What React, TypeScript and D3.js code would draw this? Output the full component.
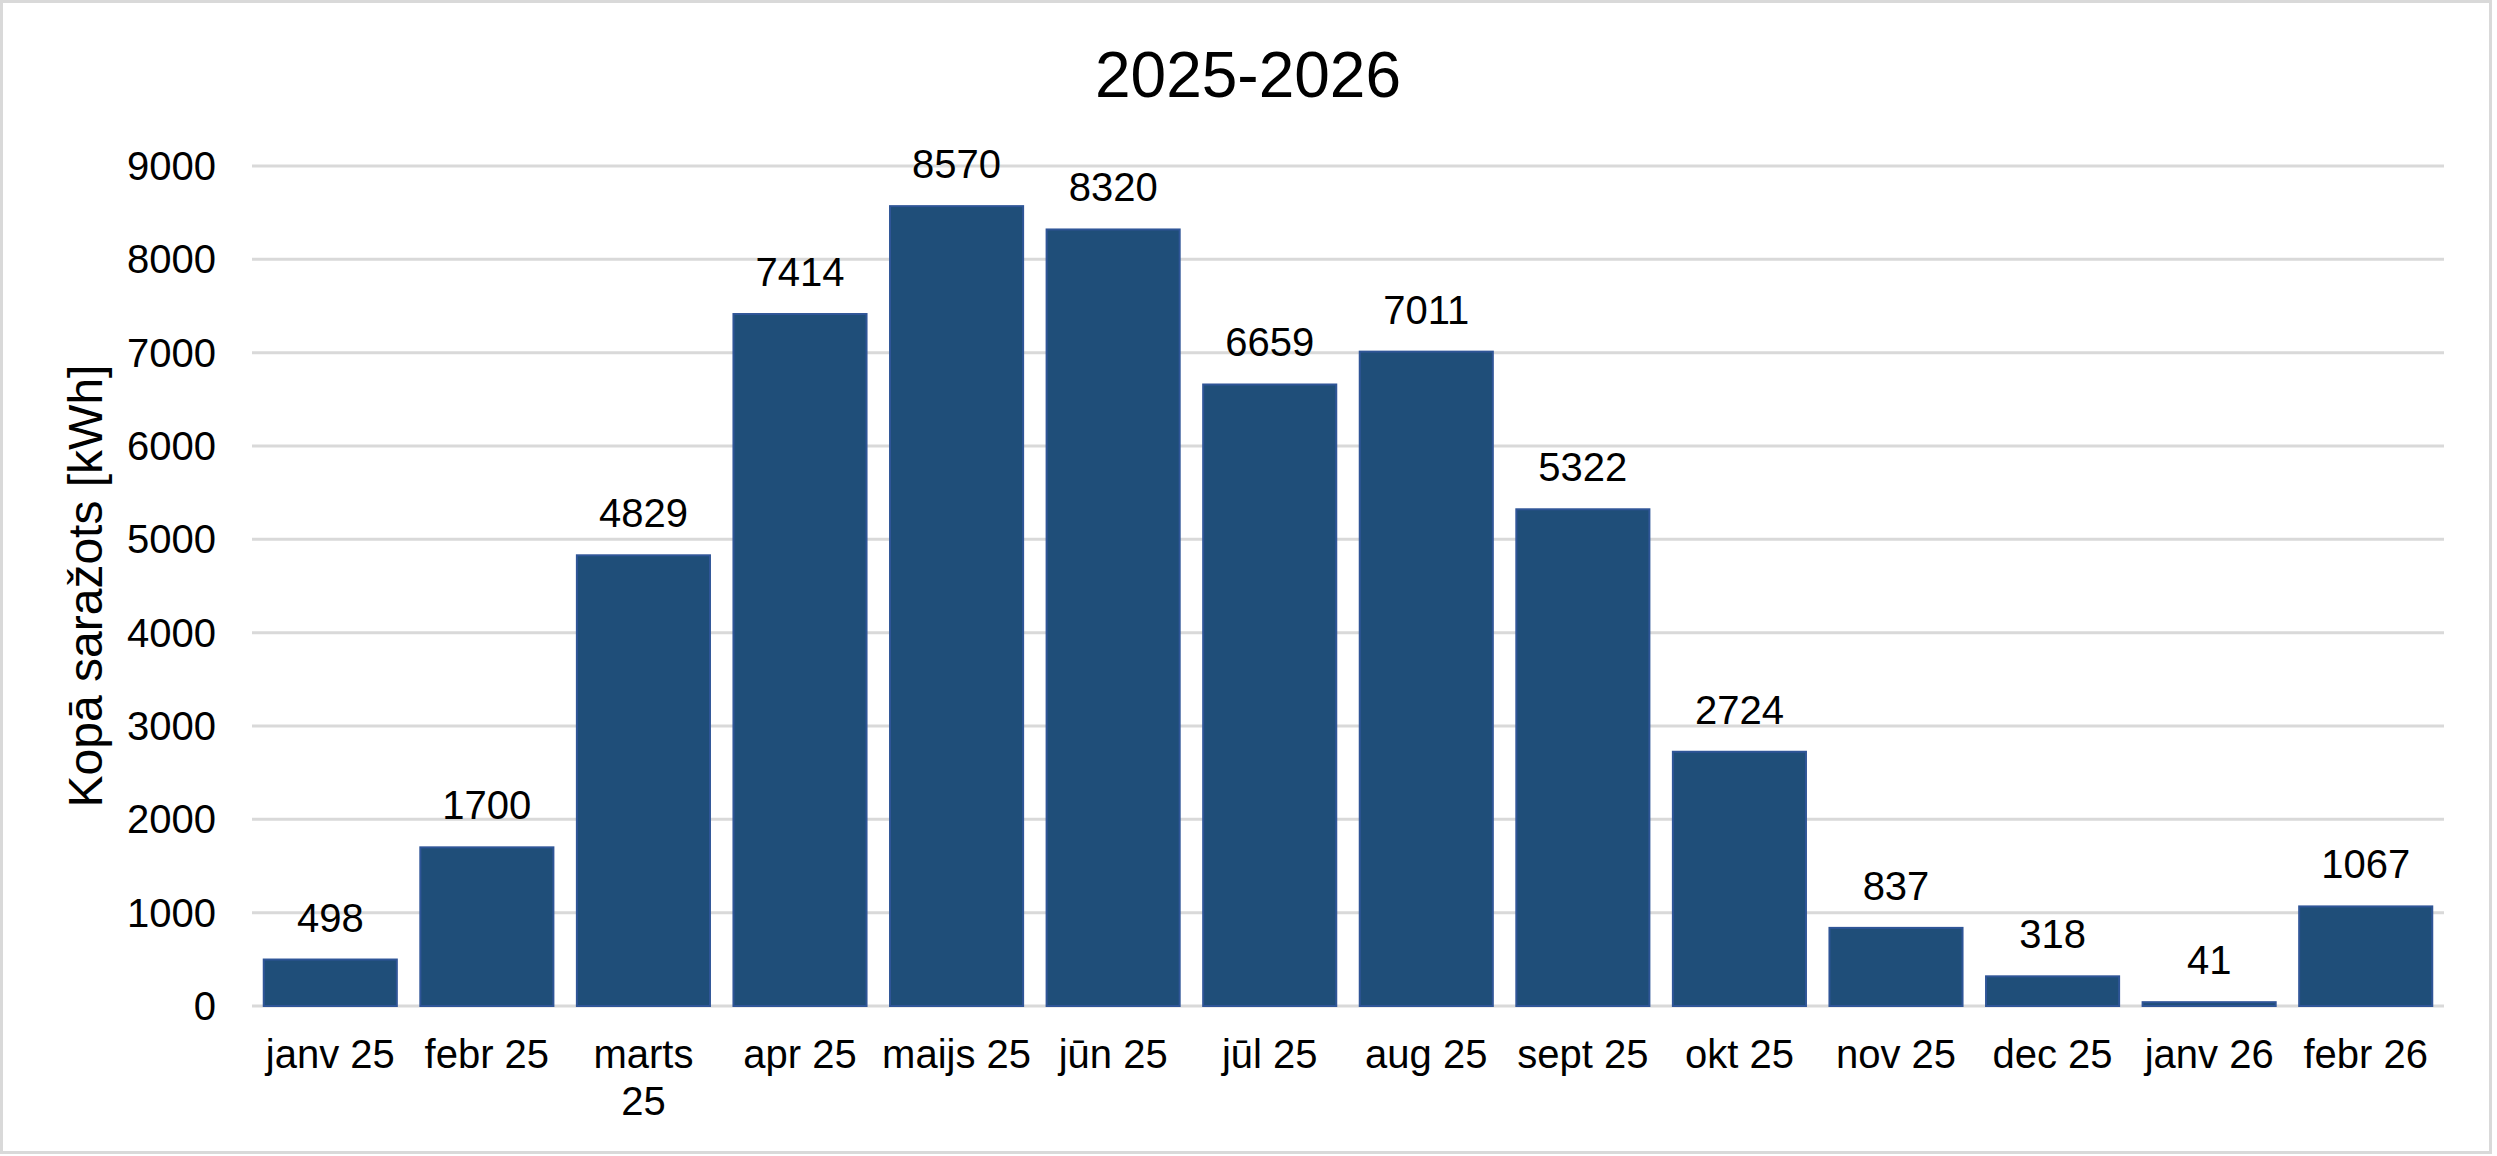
import React, { useEffect, useRef } from "react";
import * as d3 from "d3";

const categories = [
  "janv 25", "febr 25", "marts 25", "apr 25", "maijs 25", "jūn 25", "jūl 25",
  "aug 25", "sept 25", "okt 25", "nov 25", "dec 25", "janv 26", "febr 26",
];
const values = [498, 1700, 4829, 7414, 8570, 8320, 6659, 7011, 5322, 2724, 837, 318, 41, 1067];
const yTicks = [0, 1000, 2000, 3000, 4000, 5000, 6000, 7000, 8000, 9000];
const title = "2025-2026";
const yTitle = "Kopā saražots [kWh]";

const W = 2497;
const H = 1156;
const FONT = "'Liberation Sans', Arial, sans-serif";

export default function App() {
  const ref = useRef<SVGSVGElement>(null);

  useEffect(() => {
    const svg = d3.select(ref.current);
    svg.selectAll("*").remove();

    const x = d3.scaleBand<string>().domain(categories).range([252, 2444]).paddingInner(0.15).paddingOuter(0.075);
    const y = d3.scaleLinear().domain([0, 9000]).range([1006, 166]);

    svg.append("rect").attr("x", 0).attr("y", 0).attr("width", W).attr("height", H).attr("fill", "#fff");
    svg.append("rect")
      .attr("x", 1.5).attr("y", 1.5).attr("width", 2489).attr("height", 1151)
      .attr("fill", "none").attr("stroke", "#d9d9d9").attr("stroke-width", 3);

    // title
    svg.append("text")
      .attr("x", 1248).attr("y", 97)
      .attr("text-anchor", "middle")
      .attr("font-family", FONT).attr("font-size", 64).attr("fill", "#000")
      .text(title);

    // grid
    svg.append("g").selectAll("line").data(yTicks).join("line")
      .attr("x1", 252).attr("x2", 2444)
      .attr("y1", (d) => y(d)).attr("y2", (d) => y(d))
      .attr("stroke", "#d9d9d9").attr("stroke-width", 3);

    // y tick labels
    svg.append("g").selectAll("text").data(yTicks).join("text")
      .attr("x", 216).attr("y", (d) => y(d) + 14)
      .attr("text-anchor", "end")
      .attr("font-family", FONT).attr("font-size", 40).attr("fill", "#000")
      .text((d) => String(d));

    // y title
    svg.append("text")
      .attr("transform", `translate(102,586) rotate(-90)`)
      .attr("text-anchor", "middle")
      .attr("font-family", FONT).attr("font-size", 48).attr("fill", "#000")
      .text(yTitle);

    // bars
    svg.append("g").selectAll("rect").data(values).join("rect")
      .attr("x", (_, i) => x(categories[i])!)
      .attr("width", x.bandwidth())
      .attr("y", (d) => y(d))
      .attr("height", (d) => y(0) - y(d))
      .attr("fill", "#1f4e79")
      .attr("stroke", "#2f5597").attr("stroke-width", 2);

    // data labels
    svg.append("g").selectAll("text").data(values).join("text")
      .attr("x", (_, i) => x(categories[i])! + x.bandwidth() / 2)
      .attr("y", (d) => y(d) - 28)
      .attr("text-anchor", "middle")
      .attr("font-family", FONT).attr("font-size", 40).attr("fill", "#000")
      .text((d) => String(d));

    // x labels with wrapping
    const maxW = x.step() - 4;
    const xl = svg.append("g");
    categories.forEach((c) => {
      const cx = x(c)! + x.bandwidth() / 2;
      const t = xl.append("text")
        .attr("x", cx).attr("y", 1068)
        .attr("text-anchor", "middle")
        .attr("font-family", FONT).attr("font-size", 40).attr("fill", "#000")
        .text(c);
      const node = t.node() as SVGTextElement;
      if (node.getComputedTextLength() > maxW) {
        const words = c.split(" ");
        t.text(null);
        words.forEach((w, k) => {
          t.append("tspan").attr("x", cx).attr("y", 1068 + k * 47).text(w);
        });
      }
    });
  }, []);

  return (
    <svg
      ref={ref}
      width={W}
      height={H}
      style={{ position: "absolute", left: 0, top: 0, display: "block" }}
    />
  );
}
